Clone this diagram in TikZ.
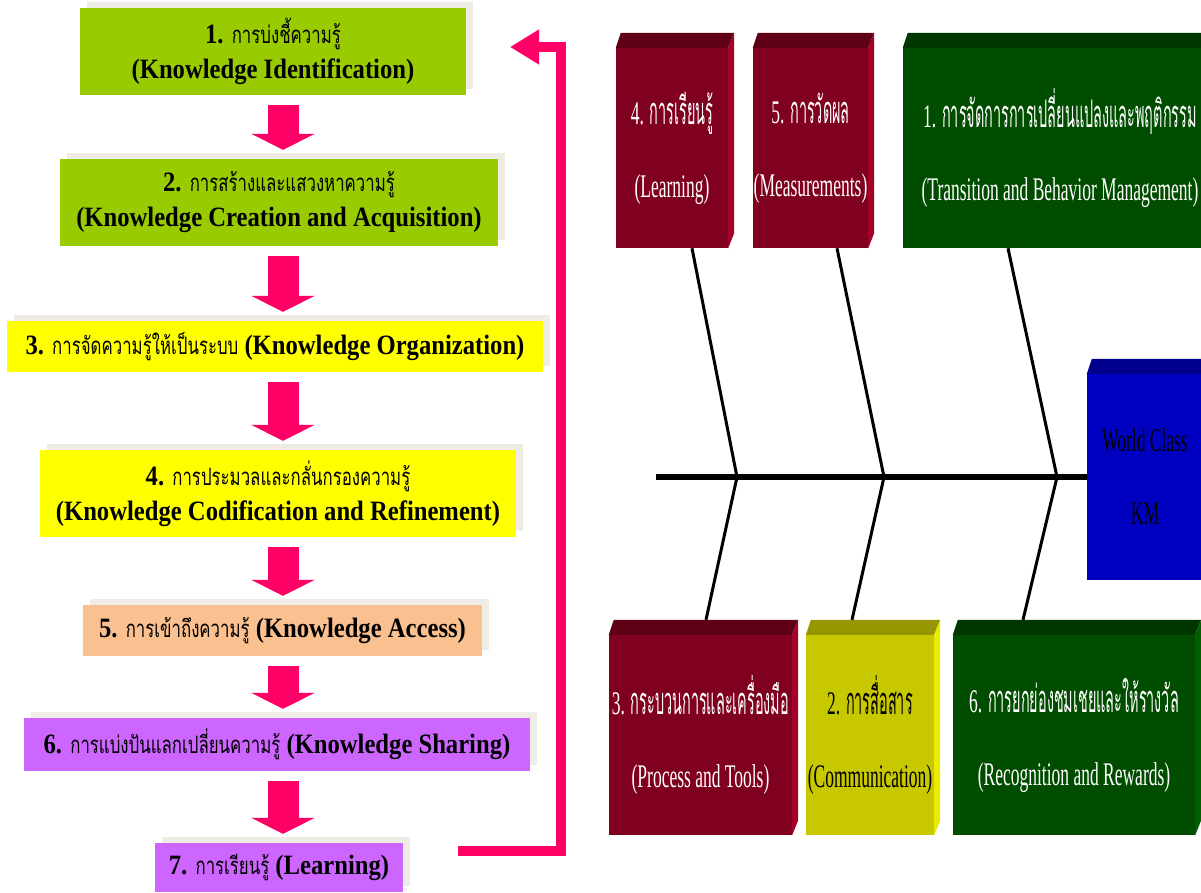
\documentclass[tikz,border=0pt]{standalone}
\usepackage{fontspec}
\setmainfont[FakeStretch=0.88]{Liberation Serif}
\newfontfamily\thaifont[Script=Thai,FakeStretch=0.7]{Loma}
\newfontfamily\narrowfont[FakeStretch=0.53]{Liberation Serif}
\newfontfamily\thainarrow[Script=Thai,FakeStretch=0.38]{Loma}
\usetikzlibrary{arrows.meta,calc,shadows}

\definecolor{LimeClr}{RGB}{153,204,0}
\definecolor{YellowClr}{RGB}{255,255,0}
\definecolor{PeachClr}{RGB}{250,192,144}
\definecolor{VioletClr}{RGB}{204,102,255}
\definecolor{ArrowClr}{RGB}{255,0,102}
\definecolor{ShadeClr}{RGB}{238,236,228}
\definecolor{FaceRed}{RGB}{128,0,32}
\definecolor{TopRed}{RGB}{96,0,22}
\definecolor{SideRed}{RGB}{165,0,40}
\definecolor{FaceGreen}{RGB}{0,77,0}
\definecolor{TopGreen}{RGB}{0,55,0}
\definecolor{SideGreen}{RGB}{0,95,0}
\definecolor{FaceOlive}{RGB}{200,200,0}
\definecolor{TopOlive}{RGB}{150,150,0}
\definecolor{SideOlive}{RGB}{235,235,0}
\definecolor{FaceBlue}{RGB}{0,0,192}
\definecolor{TopBlue}{RGB}{0,0,140}
\definecolor{SideBlue}{RGB}{0,0,220}

\newcommand\tha[1]{{\thaifont\mdseries\fontsize{24}{35}\selectfont #1}}
\newcommand\thn[1]{{\thainarrow\fontsize{38}{73}\selectfont #1}}

\begin{document}
\begin{tikzpicture}[x=1pt,y=-1pt,
  stepbox/.style={inner sep=0pt,align=center,font=\fontsize{28}{35}\selectfont\bfseries,
    drop shadow={shadow xshift=7pt,shadow yshift=6pt,fill=ShadeClr,opacity=1}},
  fatarrow/.style={line width=31pt,-{Triangle[width=63pt,length=16pt]},shorten <=10pt,shorten >=9pt},
  cube/.style={inner sep=0pt,align=center,minimum height=200,text=white,
    font=\narrowfont\fontsize{33}{73}\selectfont},
  rib/.style={line width=3pt},
  spine/.style={line width=6pt},
  loopline/.style={draw=ArrowClr,line width=10pt,line join=miter,-{Triangle[width=33pt,length=29pt]}}]
\useasboundingbox (0,0) rectangle (1201,892);
\clip (0,0) rectangle (1201,892);

\node[stepbox,fill=LimeClr,minimum width=386,minimum height=87] (s1) at (273,51.5)
  {1. \tha{การบ่งชี้ความรู้}\\(Knowledge Identification)};
\node[stepbox,fill=LimeClr,minimum width=438,minimum height=87] (s2) at (279,202.5)
  {2. \tha{การสร้างและแสวงหาความรู้}\\(Knowledge Creation and Acquisition)};
\node[stepbox,fill=YellowClr,minimum width=536,minimum height=51] (s3) at (275,346.5)
  {3. \tha{การจัดความรู้ให้เป็นระบบ} (Knowledge Organization)};
\node[stepbox,fill=YellowClr,minimum width=476,minimum height=87] (s4) at (278,493.5)
  {4. \tha{การประมวลและกลั่นกรองความรู้}\\(Knowledge Codification and Refinement)};
\node[stepbox,fill=PeachClr,minimum width=399,minimum height=51] (s5) at (282.5,630.5)
  {5. \tha{การเข้าถึงความรู้} (Knowledge Access)};
\node[stepbox,fill=VioletClr,minimum width=506,minimum height=53] (s6) at (277,744.5)
  {6. \tha{การแบ่งปันแลกเปลี่ยนความรู้} (Knowledge Sharing)};
\node[stepbox,fill=VioletClr,minimum width=248,minimum height=49] (s7) at (279,867.5)
  {7. \tha{การเรียนรู้} (Learning)};

\coordinate (col) at (283,0);
\foreach \a/\b in {s1/s2,s2/s3,s3/s4,s4/s5,s5/s6,s6/s7}{
  \draw[fatarrow,draw=ShadeClr,yshift=-7pt] (\a.south -| col) -- (\b.north -| col);
  \draw[fatarrow,draw=ArrowClr] (\a.south -| col) -- (\b.north -| col);
}

\coordinate (loopStart) at (458,851);
\coordinate (loopCorner) at (561,47);
\coordinate (loopEnd) at (510,47);
\draw[loopline] (loopStart) -| (loopCorner) -- (loopEnd);

\node[cube,fill=FaceRed,minimum width=112] (learn) at (672,148)
  {4. \thn{การเรียนรู้}\\(Learning)};
\node[cube,fill=FaceRed,minimum width=115] (measure) at (810.5,148)
  {5. \thn{การวัดผล}\\(Measurements)};
\node[cube,fill=FaceGreen,minimum width=314] (change) at (1060,148)
  {1. \thn{การจัดการการเปลี่ยนแปลงและพฤติกรรม}\\(Transition and Behavior Management)};
\node[cube,fill=FaceRed,minimum width=183] (process) at (700.5,735)
  {3. \thn{กระบวนการและเครื่องมือ}\\(Process and Tools)};
\node[cube,fill=FaceOlive,text=black,minimum width=128] (comm) at (870,735)
  {2. \thn{การสื่อสาร}\\(Communication)};
\node[cube,fill=FaceGreen,minimum width=242] (reward) at (1074,735)
  {6. \thn{การยกย่องชมเชยและให้รางวัล}\\(Recognition and Rewards)};
\node[cube,fill=FaceBlue,text=black,minimum width=116,minimum height=206] (km) at (1145,477)
  {World Class\\KM};

\foreach \n/\c in {learn/Red,measure/Red,change/Green,process/Red,comm/Olive,reward/Green,km/Blue}{
  \fill[fill=Top\c] (\n.north west) -- ++(5,-15) -- ($(\n.north east)+(6,-15)$) -- (\n.north east) -- cycle;
  \fill[fill=Side\c] (\n.north east) -- ++(6,-15) -- ($(\n.south east)+(6,-15)$) -- (\n.south east) -- cycle;
}

\coordinate (tail) at (656,477);
\coordinate (j1) at (737,477);
\coordinate (j2) at (884,477);
\coordinate (j3) at (1057,477);
\draw[spine] (tail) -- (km.west);
\draw[rib] ($(learn.south)+(20,0)$) -- (j1) -- ($(process.north)+(5.5,-15)$);
\draw[rib] ($(measure.south)+(26.5,0)$) -- (j2) -- ($(comm.north)+(-18,-15)$);
\draw[rib] ($(change.south)+(-52,0)$) -- (j3) -- ($(reward.north)+(-51,-15)$);
\end{tikzpicture}
\end{document}
